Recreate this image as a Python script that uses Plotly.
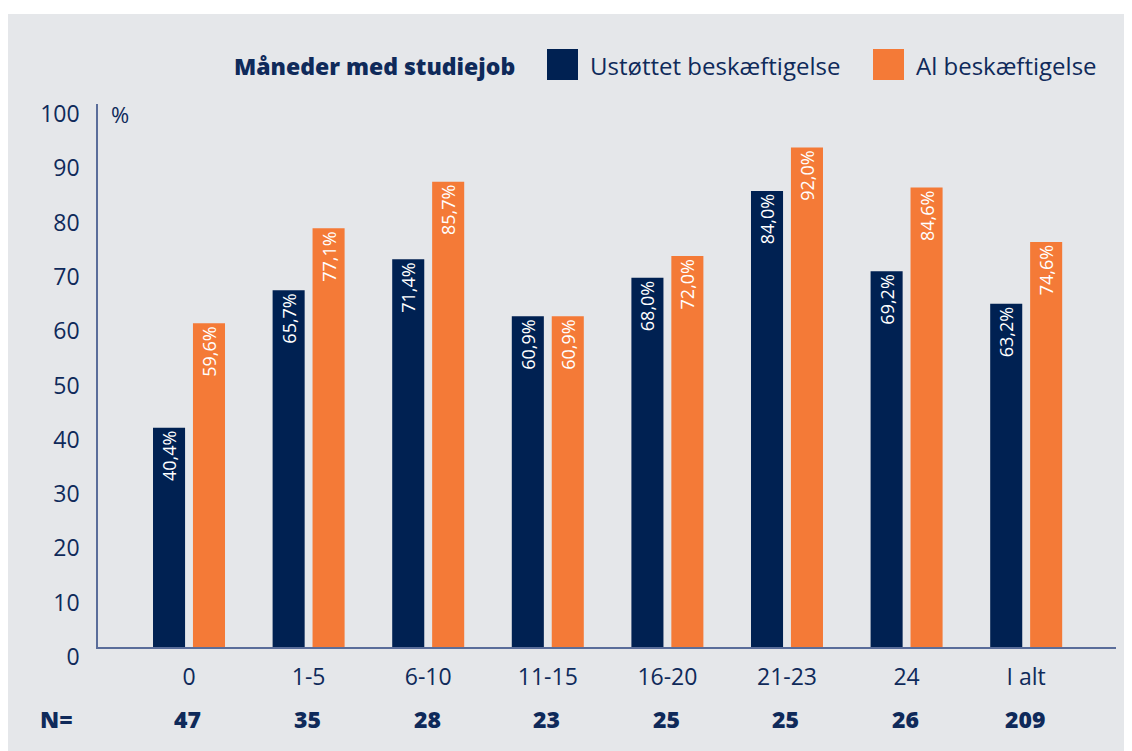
import plotly.graph_objects as go

categories = ["0", "1-5", "6-10", "11-15", "16-20", "21-23", "24", "I alt"]
n_values = ["47", "35", "28", "23", "25", "25", "26", "209"]
ustottet = [40.4, 65.7, 71.4, 60.9, 68.0, 84.0, 69.2, 63.2]
al = [59.6, 77.1, 85.7, 60.9, 72.0, 92.0, 84.6, 74.6]
y_ticks = [0, 10, 20, 30, 40, 50, 60, 70, 80, 90, 100]

NAVY = "#002152"
ORANGE = "#f47a37"
TEXT = "#0f2a5a"
BG = "#e5e7ea"
AXIS = "#5a6d9a"
FONT = "'Open Sans', Lato, sans-serif"

# the page body adds an 8px margin, so the figure is laid out 8px smaller
OFF = 8
W, H = 1132 - OFF, 751 - OFF
L, R, T = 98 - OFF, 16, 104 - OFF
B = H - (647 - OFF)
PW, PH = W - L - R, H - T - B


def px(x):
    return (x - OFF - L) / PW


def py(y):
    return (H - B - (y - OFF)) / PH


xs = list(range(len(categories)))

fig = go.Figure()
fig.add_trace(go.Bar(
    x=xs, y=ustottet, name="Ustøttet beskæftigelse",
    marker=dict(color=NAVY, line=dict(width=0)),
    width=0.268, offset=-0.301,
    texttemplate="%{y:.1f}%", textposition="inside", textangle=-90,
    insidetextanchor="end",
    insidetextfont=dict(color="white", size=18, family=FONT),
    showlegend=False,
))
fig.add_trace(go.Bar(
    x=xs, y=al, name="Al beskæftigelse",
    marker=dict(color=ORANGE, line=dict(width=0)),
    width=0.268, offset=0.033,
    texttemplate="%{y:.1f}%", textposition="inside", textangle=-90,
    insidetextanchor="end",
    insidetextfont=dict(color="white", size=18, family=FONT),
    showlegend=False,
))

shapes = [
    dict(type="rect", xref="paper", yref="paper", layer="below",
         x0=px(8), x1=px(1150), y0=py(770), y1=py(14),
         fillcolor=BG, line=dict(width=0)),
    dict(type="rect", xref="paper", yref="paper",
         x0=px(547), x1=px(578), y0=py(80), y1=py(49),
         fillcolor=NAVY, line=dict(width=0)),
    dict(type="rect", xref="paper", yref="paper",
         x0=px(873), x1=px(904), y0=py(80), y1=py(49),
         fillcolor=ORANGE, line=dict(width=0)),
]

annotations = [
    dict(text="Måneder med studiejob", xref="paper", yref="paper",
         x=px(232), y=py(66), xanchor="left", yanchor="middle", showarrow=False,
         font=dict(size=23, color=TEXT, family=FONT, weight=800)),
    dict(text="Ustøttet beskæftigelse", xref="paper", yref="paper",
         x=px(588), y=py(65), xanchor="left", yanchor="middle", showarrow=False,
         font=dict(size=24, color=TEXT, family=FONT)),
    dict(text="Al beskæftigelse", xref="paper", yref="paper",
         x=px(914), y=py(65), xanchor="left", yanchor="middle", showarrow=False,
         font=dict(size=24, color=TEXT, family=FONT)),
    dict(text="%", xref="paper", yref="paper",
         x=px(109), y=py(114), xanchor="left", yanchor="middle", showarrow=False,
         font=dict(size=22, color=TEXT, family=FONT)),
    dict(text="N=", xref="paper", yref="paper",
         x=px(38), y=py(719), xanchor="left", yanchor="middle", showarrow=False,
         font=dict(size=23, color=TEXT, family=FONT, weight=800)),
]
for i, n in enumerate(n_values):
    annotations.append(dict(
        text=n, xref="x", yref="paper", x=xs[i] - 0.01, y=py(719),
        xanchor="center", yanchor="middle", showarrow=False,
        font=dict(size=23, color=TEXT, family=FONT, weight=800)))

fig.update_layout(
    width=W, height=H,
    margin=dict(l=L, r=R, t=T, b=B, pad=0),
    paper_bgcolor="white", plot_bgcolor=BG,
    separators=",.",
    font=dict(family=FONT, color=TEXT),
    shapes=shapes, annotations=annotations,
    barmode="overlay",
    xaxis=dict(
        range=[-0.761, 7.751], tickvals=xs, ticktext=categories,
        showgrid=False, zeroline=False, showline=True, linecolor=AXIS, linewidth=1.5,
        ticks="", tickfont=dict(size=23, color=TEXT, family=FONT),
        ticklabelstandoff=9, fixedrange=True,
    ),
    yaxis=dict(
        range=[0, 100], tickvals=y_ticks,
        showgrid=False, zeroline=False, showline=True, linecolor=AXIS, linewidth=1.5,
        ticks="", tickfont=dict(size=23, color=TEXT, family=FONT),
        ticklabelstandoff=12, ticklabelshift=10, fixedrange=True,
    ),
)

fig.write_html("out.html")
